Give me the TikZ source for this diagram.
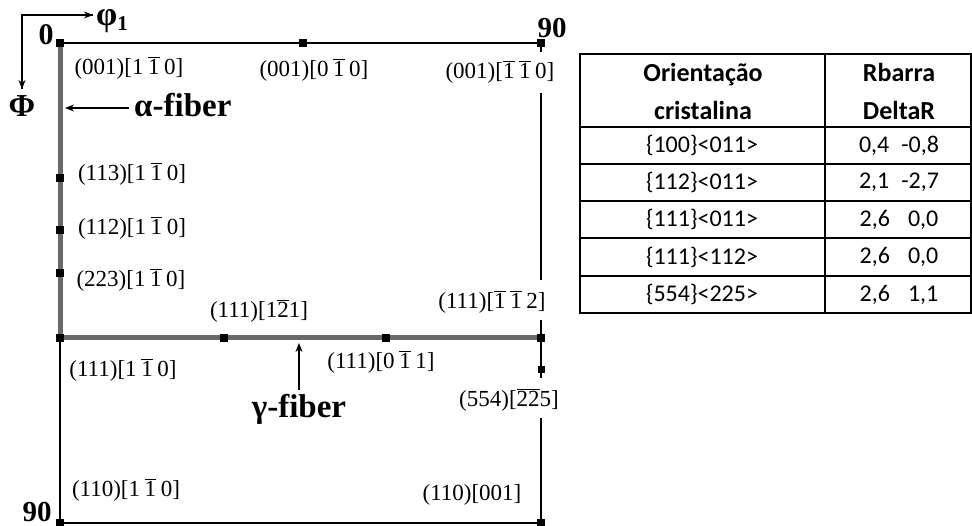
\documentclass[tikz,border=0pt]{standalone}
\usepackage{fontspec}
\setmainfont{Liberation Serif}
\newfontfamily\tabfont{Carlito}
\usetikzlibrary{arrows.meta}
\newcommand\ob[1]{\ensuremath{\overline{\mbox{#1}}}}
\newcommand\gp{\hspace{0.2em}}
\definecolor{fibgray}{RGB}{105,105,105}
\begin{document}
\begin{tikzpicture}[x=1pt,y=-1pt,
  mk/.style={rectangle,fill=black,minimum size=8pt,inner sep=0pt},
  lab/.style={inner sep=0pt,font=\fontsize{23}{26}\selectfont},
  big/.style={inner sep=0pt,font=\fontsize{33}{36}\selectfont\bfseries},
  axl/.style={inner sep=0pt,font=\fontsize{30}{32}\selectfont\bfseries},
  ln/.style={line width=2pt,draw=black},
  fib/.style={line width=5pt,draw=fibgray},
  arr/.style={line width=1.5pt,-{Stealth[length=9pt,width=7pt]}},
  cell/.style={inner sep=0pt,font=\fontsize{24}{28}\selectfont\tabfont},
  hcell/.style={inner sep=0pt,font=\fontsize{26}{38}\selectfont\tabfont\bfseries,align=center}]
\useasboundingbox (0,0) rectangle (972,526);
% corner coordinates
\coordinate (tl) at (60,43);
\coordinate (tr) at (541,43);
\coordinate (gl) at (60,338);
\coordinate (gr) at (541,338);
\coordinate (bl) at (60,523);
\coordinate (br) at (541,523);
% lines
\draw[ln] (tl) -- (tr);
\draw[ln] (bl) -- (br);
\draw[ln] (gl) -- (bl);
\coordinate (r1) at (541,52);
\coordinate (r2) at (541,93);
\coordinate (r3) at (541,280);
\coordinate (r4) at (541,320);
\coordinate (r5) at (541,378);
\coordinate (r6) at (541,418);
\draw[ln] (tr) -- (r1);
\draw[ln] (r2) -- (r3);
\draw[ln] (r4) -- (r5);
\draw[ln] (r6) -- (br);
\draw[fib] (tl) -- (gl);
\draw[fib] (gl) -- (gr);
% markers
\node[mk] (m1) at (tl) {};
\node[mk] (m2) at (303,43) {};
\node[mk] (m3) at (tr) {};
\node[mk] (m4) at (60,178) {};
\node[mk] (m5) at (60,230) {};
\node[mk] (m6) at (60,273) {};
\node[mk] (m7) at (gl) {};
\node[mk] (m8) at (224,338) {};
\node[mk] (m9) at (386,338) {};
\node[mk] (m10) at (gr) {};
\node[mk,minimum size=7pt] (m11) at (541,370) {};
\node[mk] (m12) at (bl) {};
\node[mk] (m13) at (br) {};
% axis labels
\node[axl] (zero) at (46,35) {0};
\node[axl,font=\fontsize{29}{32}\selectfont\bfseries] (n90a) at (552,28) {90};
\node[axl,font=\fontsize{29}{32}\selectfont\bfseries] (n90b) at (37,512) {90};
\coordinate (ax0) at (22,15);
\coordinate (axr) at (93,15);
\coordinate (axd) at (22,89);
\draw[line width=1.5pt] (axr) -- (ax0) -- (axd);
\draw[arr] (ax0) -- (axr);
\draw[arr] (ax0) -- (axd);
\node[axl,anchor=west,font=\fontsize{34}{36}\selectfont\bfseries] (phi1) at (96,21) {φ\raisebox{-0.3ex}{\fontsize{21}{22}\selectfont 1}};
\node[axl,font=\fontsize{32}{34}\selectfont\bfseries] (Phi) at (22,106) {Φ};
% fiber labels
\node[big,anchor=west] (alpha) at (134,105) {α-fiber};
\coordinate (aa) at (65,108);
\coordinate (as) at (129,108);
\draw[arr] (as) -- (aa);
\node[big] (gamma) at (299,409) {γ-fiber};
\coordinate (ga) at (299,343);
\coordinate (gs) at (299,390);
\draw[arr] (gs) -- (ga);
% orientation labels
\node[lab] (l1) at (129,68) {(001)[1\gp\ob{1}\gp0]};
\node[lab] (l2) at (314,70) {(001)[0\gp\ob{1}\gp0]};
\node[lab] (l3) at (500,72) {(001)[\ob{1}\gp\ob{1}\gp0]};
\node[lab] (l4) at (132,174) {(113)[1\gp\ob{1}\gp0]};
\node[lab] (l5) at (132,228) {(112)[1\gp\ob{1}\gp0]};
\node[lab] (l6) at (131,280) {(223)[1\gp\ob{1}\gp0]};
\node[lab] (l7) at (259,311) {(111)[1\ob{2}1]};
\node[lab] (l8) at (492,302) {(111)[\ob{1}\gp\ob{1}\gp2]};
\node[lab] (l9) at (123,370) {(111)[1\gp\ob{1}\gp0]};
\node[lab] (l10) at (381,362) {(111)[0\gp\ob{1}\gp1]};
\node[lab] (l11) at (509,400) {(554)[\ob{2}\ob{2}5]};
\node[lab] (l12) at (126,490) {(110)[1\gp\ob{1}\gp0]};
\node[lab] (l13) at (472,495) {(110)[001]};
% table
\draw[line width=2pt] (580,54) rectangle (970.5,313);
\draw[line width=2pt] (825,54) -- (825,313);
\foreach \y in {127,164,201,238,276}
  \draw[line width=2pt] (580,\y) -- (970.5,\y);
\node[hcell] (h1) at (703,91) {Orientação\\cristalina};
\node[hcell] (h2) at (899,91) {Rbarra\\DeltaR};
\node[cell] (c11) at (702,145.5) {\{100\}<011>};
\node[cell] (c21) at (702,182.5) {\{112\}<011>};
\node[cell] (c31) at (702,219.5) {\{111\}<011>};
\node[cell] (c41) at (702,257) {\{111\}<112>};
\node[cell] (c51) at (702,294.5) {\{554\}<225>};
\node[cell] (c12) at (899,145.5) {0,4\hspace{0.5em}-0,8};
\node[cell] (c22) at (899,182.5) {2,1\hspace{0.5em}-2,7};
\node[cell] (c32) at (899,219.5) {2,6\hspace{0.75em}0,0};
\node[cell] (c42) at (899,257) {2,6\hspace{0.75em}0,0};
\node[cell] (c52) at (899,294.5) {2,6\hspace{0.75em}1,1};
\end{tikzpicture}
\end{document}
